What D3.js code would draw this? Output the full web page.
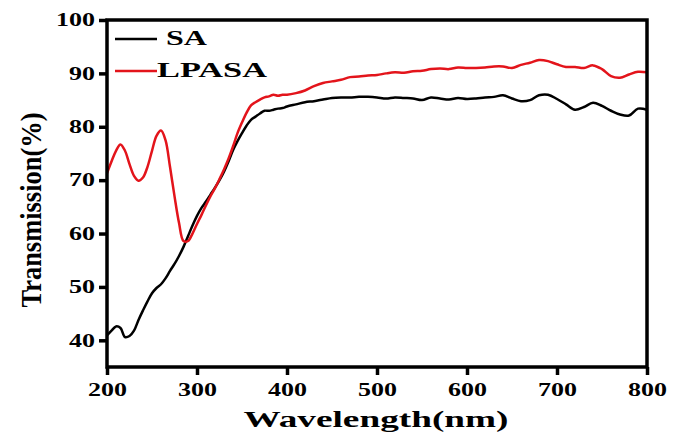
<!DOCTYPE html>
<html>
<head>
<meta charset="utf-8">
<script src="https://cdn.jsdelivr.net/npm/d3@7"></script>
<style>
  body { margin: 0; background: #fff; }
  svg text { font-family: "Liberation Serif", "Times New Roman", serif; font-weight: bold; fill: #000; }
</style>
</head>
<body>
<svg id="chart"></svg>
<script>
// wavelength (nm) shared by both spectra
var wavelength = [200, 205, 210, 215, 220, 225, 230, 235, 240, 245, 250, 255, 260, 265, 270, 275, 280, 285, 290, 295,
    300, 305, 310, 315, 320, 325, 330, 335, 340, 345, 350, 355, 360, 365, 370, 375, 380, 385, 390, 395, 400,
    410, 420, 430, 440, 450, 460, 470, 480, 490, 500, 510, 520, 530, 540, 550, 560, 570, 580, 590, 600,
    610, 620, 630, 640, 650, 660, 670, 680, 690, 700, 710, 720, 730, 740, 750, 760, 770, 780, 790, 800];

var sa = [40.9, 41.8, 42.6, 42.3, 40.6, 40.8, 41.8, 43.8, 45.6, 47.3, 48.8, 49.8, 50.5, 51.6, 53.0, 54.3, 55.8, 57.5, 59.5, 61.5,
    63.3, 64.8, 66.0, 67.3, 68.6, 70.0, 71.6, 73.5, 75.6, 77.3, 78.8, 80.2, 81.3, 81.9, 82.5, 83.0, 83.0, 83.2, 83.4, 83.5, 83.8,
    84.2, 84.6, 84.8, 85.1, 85.4, 85.5, 85.5, 85.6, 85.6, 85.5, 85.3, 85.5, 85.4, 85.3, 85.0, 85.5, 85.3, 85.1, 85.4, 85.2,
    85.3, 85.5, 85.6, 85.9, 85.3, 84.8, 85.0, 85.9, 86.0, 85.2, 84.2, 83.2, 83.7, 84.5, 83.9, 83.0, 82.3, 82.1, 83.4, 83.2];

var lpasa = [71.3, 73.5, 75.5, 76.7, 75.5, 73.0, 70.8, 69.9, 70.5, 72.5, 75.5, 78.3, 79.3, 77.5, 72.5, 67.0, 62.0, 58.6, 58.6, 60.0,
    61.8, 63.5, 65.3, 67.0, 68.5, 70.2, 72.0, 74.0, 76.3, 78.8, 80.8, 82.6, 84.0, 84.6, 85.1, 85.5, 85.7, 86.0, 85.8, 86.0, 86.0,
    86.3, 86.8, 87.6, 88.2, 88.5, 88.8, 89.3, 89.4, 89.6, 89.7, 90.0, 90.2, 90.1, 90.4, 90.5, 90.8, 90.9, 90.8, 91.1, 91.0,
    91.0, 91.1, 91.3, 91.3, 91.0, 91.6, 92.0, 92.5, 92.3, 91.7, 91.2, 91.2, 91.0, 91.5, 90.8, 89.5, 89.2, 89.8, 90.3, 90.2];

var xTicks = [200, 300, 400, 500, 600, 700, 800];
var yTicks = [40, 50, 60, 70, 80, 90, 100];

var seriesNames = ["SA", "LPASA"];
var seriesColors = ["#000000", "#e3141b"];

var width = 683, height = 433;
var margin = {top: 20, right: 36, bottom: 66, left: 107};

var svg = d3.select("#chart")
    .attr("width", width)
    .attr("height", height);

var x = d3.scaleLinear().domain([200, 800]).range([margin.left, width - margin.right]);
var y = d3.scaleLinear().domain([35, 100]).range([height - margin.bottom, margin.top]);

// curves
var line = d3.line()
    .x(function(d) { return x(d[0]); })
    .y(function(d) { return y(d[1]); })
    .curve(d3.curveCatmullRom.alpha(0.5));

[sa, lpasa].forEach(function(vals, i) {
    svg.append("path")
        .datum(wavelength.map(function(w, j) { return [w, vals[j]]; }))
        .attr("fill", "none")
        .attr("stroke", seriesColors[i])
        .attr("stroke-width", 2.5)
        .attr("stroke-linejoin", "round")
        .attr("d", line);
});

// frame
svg.append("rect")
    .attr("x", x(200))
    .attr("y", y(100))
    .attr("width", x(800) - x(200))
    .attr("height", y(35) - y(100))
    .attr("fill", "none")
    .attr("stroke", "#000")
    .attr("stroke-width", 3.5);

var xAxis = svg.append("g")
    .attr("transform", "translate(0," + y(35) + ")")
    .call(d3.axisBottom(x).tickValues(xTicks).tickSize(8).tickPadding(8).tickSizeOuter(0));

var yAxis = svg.append("g")
    .attr("transform", "translate(" + x(200) + ",0)")
    .call(d3.axisLeft(y).tickValues(yTicks).tickSize(8).tickPadding(4).tickSizeOuter(0));

[xAxis, yAxis].forEach(function(ax) {
    ax.select(".domain").remove();
    ax.selectAll(".tick line").attr("stroke", "#000").attr("stroke-width", 3.5);
    ax.selectAll(".tick text")
        .attr("font-size", 18)
        .attr("font-family", "Liberation Serif")
        .attr("font-weight", "bold")
        .attr("fill", "#000")
        .attr("textLength", function(d) { return String(d).length * 13; })
        .attr("lengthAdjust", "spacingAndGlyphs");
});

// axis titles
svg.append("text")
    .attr("x", 376)
    .attr("y", 427)
    .attr("text-anchor", "middle")
    .attr("font-size", 24)
    .attr("textLength", 265)
    .attr("lengthAdjust", "spacingAndGlyphs")
    .text("Wavelength(nm)");

svg.append("text")
    .attr("transform", "translate(41,210) rotate(-90) scale(1,1.35)")
    .attr("text-anchor", "middle")
    .attr("font-size", 22)
    .attr("textLength", 195)
    .attr("lengthAdjust", "spacingAndGlyphs")
    .text("Transmission(%)");

// legend
var legendY = [39, 71];
var legendTextX = [166, 157];
var legendTextW = [41, 110];
seriesNames.forEach(function(name, i) {
    svg.append("line")
        .attr("x1", 115).attr("x2", 157)
        .attr("y1", legendY[i]).attr("y2", legendY[i])
        .attr("stroke", seriesColors[i])
        .attr("stroke-width", 2.5);
    svg.append("text")
        .attr("x", legendTextX[i])
        .attr("y", legendY[i] + 6)
        .attr("font-size", 22)
        .attr("textLength", legendTextW[i])
        .attr("lengthAdjust", "spacingAndGlyphs")
        .text(name);
});
</script>
</body>
</html>
